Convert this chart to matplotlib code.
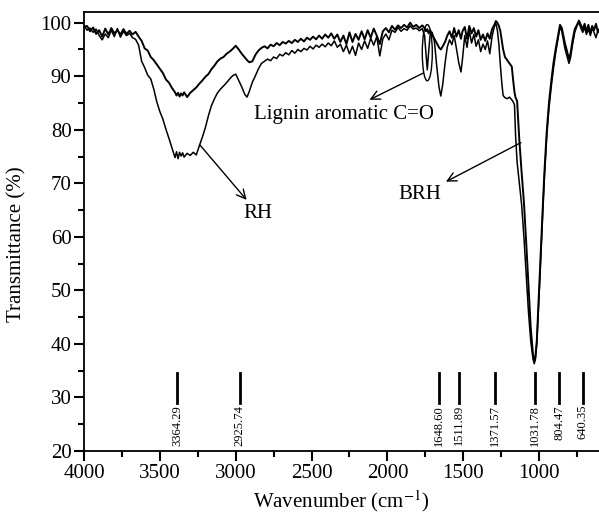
import matplotlib

matplotlib.use("Agg")
import matplotlib.pyplot as plt
from matplotlib.patches import Ellipse
from matplotlib.ticker import MultipleLocator

# spectra (wavenumber in cm-1, transmittance in %)
wavenumber = [
    4000, 3980, 3960, 3940, 3920, 3900, 3880, 3860, 3840, 3820,
    3800, 3780, 3760, 3740, 3720, 3700, 3680, 3660, 3640, 3620,
    3600, 3580, 3560, 3540, 3520, 3500, 3480, 3460, 3440, 3420,
    3400, 3390, 3380, 3370, 3360, 3350, 3340, 3320, 3300, 3280,
    3260, 3240, 3220, 3200, 3180, 3160, 3140, 3120, 3100, 3080,
    3060, 3040, 3020, 3000, 2980, 2960, 2940, 2925, 2910, 2890,
    2870, 2850, 2830, 2810, 2790, 2770, 2750, 2730, 2710, 2690,
    2670, 2650, 2630, 2610, 2590, 2570, 2550, 2530, 2510, 2490,
    2470, 2450, 2430, 2410, 2390, 2370, 2350, 2330, 2310, 2290,
    2270, 2250, 2230, 2210, 2190, 2170, 2150, 2130, 2110, 2090,
    2070, 2050, 2030, 2010, 1990, 1970, 1950, 1930, 1910, 1890,
    1870, 1850, 1830, 1810, 1790, 1770, 1755, 1745, 1737, 1728,
    1718, 1705, 1690, 1675, 1660, 1648, 1635, 1620, 1605, 1590,
    1575, 1560, 1545, 1530, 1515, 1505, 1490, 1475, 1460, 1445,
    1430, 1415, 1400, 1385, 1370, 1355, 1340, 1325, 1310, 1295,
    1285, 1275, 1265, 1255, 1245, 1237, 1225, 1210, 1195, 1180,
    1170, 1162, 1155, 1145, 1130, 1115, 1100, 1085, 1070, 1055,
    1040, 1032, 1025, 1015, 1005, 995, 985, 975, 965, 950,
    935, 920, 905, 890, 875, 862, 850, 840, 830, 815,
    803, 793, 780, 765, 750, 737, 725, 712, 700, 688,
    675, 662, 650, 638, 625, 612, 600,
]

rh = [
    99.5, 98.6, 99.0, 98.2, 98.8, 97.6, 96.8, 97.9, 97.2, 98.6,
    97.4, 98.9, 97.3, 98.4, 97.6, 98.0, 97.2, 96.9, 95.8, 92.8,
    91.6, 90.2, 89.5, 87.6, 85.2, 83.4, 82.0, 80.1, 78.4, 76.6,
    74.8, 75.9, 74.6, 75.8, 75.1, 75.7, 74.9, 75.6, 75.2, 75.8,
    75.3, 77.0, 78.6, 80.4, 82.6, 84.5, 85.8, 86.9, 87.6, 88.2,
    88.8, 89.5, 90.1, 90.4, 89.2, 88.0, 86.6, 86.1, 87.2, 88.9,
    90.1, 91.4, 92.4, 92.8, 93.2, 92.9, 93.6, 93.3, 94.1, 93.8,
    94.4, 94.0, 94.8, 94.3, 95.0, 94.6, 95.2, 94.9, 95.6, 95.1,
    95.8, 95.4, 96.0, 95.5, 96.2, 95.7, 96.6, 95.4, 96.0, 94.6,
    95.8, 94.2, 95.6, 93.9, 96.2, 95.0, 96.6, 95.2, 97.1, 95.8,
    97.4, 93.8, 97.0, 97.9, 96.8, 98.6, 98.2, 99.1, 98.4, 98.9,
    98.6, 99.4, 98.8, 99.0, 98.5, 98.9, 97.6, 94.0, 91.2, 94.5,
    97.8, 98.2, 96.5, 92.0, 88.0, 86.3, 88.5, 92.4, 95.5, 96.8,
    95.9, 97.6, 95.2, 92.6, 90.8, 93.2, 97.6, 95.4, 98.5, 96.2,
    97.8, 95.6, 96.8, 94.6, 96.0, 95.0, 96.6, 94.2, 97.4, 99.3,
    99.9, 98.6, 96.0, 92.0, 88.5, 86.4, 86.0, 85.8, 86.1, 85.6,
    85.2, 84.6, 79.0, 74.0, 70.0, 66.0, 60.0, 53.0, 46.0, 40.5,
    37.2, 36.3, 37.0, 40.0, 46.0, 52.0, 58.5, 65.0, 71.0, 78.5,
    84.0, 88.0, 91.5, 94.5, 97.0, 99.2, 98.4, 96.8, 95.2, 93.6,
    92.4, 93.4, 95.8, 98.2, 99.4, 100.1, 99.0, 98.2, 99.1, 97.8,
    98.8, 97.6, 99.0, 98.2, 97.2, 98.6, 98.0,
]

brh = [
    99.2, 99.4, 98.4, 99.1, 97.9, 98.6, 97.4, 98.9, 97.8, 99.0,
    98.0, 98.6, 97.8, 98.8, 97.9, 98.5, 97.8, 98.3, 97.4, 96.6,
    95.2, 94.8, 93.6, 93.0, 92.2, 91.4, 90.6, 89.4, 88.8, 87.8,
    87.0, 86.4, 86.9, 86.2, 86.8, 86.4, 87.0, 86.1, 86.9, 87.4,
    87.9, 88.6, 89.2, 89.9, 90.4, 91.3, 92.0, 92.8, 93.3, 93.6,
    94.2, 94.6, 95.1, 95.7, 95.0, 94.2, 93.5, 93.0, 92.6, 92.8,
    94.0, 94.8, 95.3, 95.6, 95.2, 95.9, 95.6, 96.2, 95.8, 96.4,
    96.1, 96.6, 96.2, 96.8, 96.4, 97.0, 96.5, 97.2, 96.8, 97.4,
    96.9, 97.6, 97.0, 97.8, 97.2, 98.0, 97.0, 97.8, 96.4, 97.6,
    96.0, 98.2, 96.4, 97.9, 96.8, 98.4, 96.9, 98.6, 97.2, 98.9,
    97.6, 96.0, 98.4, 99.0, 98.2, 99.4, 98.7, 99.5, 99.0, 99.6,
    99.1, 100.0, 99.2, 99.6, 99.0, 99.5, 99.0, 98.4, 98.8, 98.0,
    98.6, 97.8, 97.0, 96.2, 95.4, 95.0, 95.6, 96.4, 97.6, 98.4,
    97.2, 99.0, 97.4, 98.6, 97.0, 98.4, 99.2, 97.0, 99.4, 98.0,
    99.0, 97.4, 98.6, 96.8, 97.8, 96.6, 98.0, 97.0, 98.8, 99.6,
    100.3, 100.0, 99.4, 98.4, 96.5, 95.0, 93.6, 93.0, 92.4, 91.8,
    89.0, 87.0, 86.0, 85.4, 78.0, 72.0, 66.5, 59.0, 51.0, 43.0,
    38.0, 36.8, 37.4, 40.6, 47.0, 53.0, 59.5, 66.0, 72.0, 79.5,
    85.0, 89.0, 92.5, 95.2, 97.6, 99.6, 99.0, 97.6, 96.2, 94.6,
    93.2, 94.2, 96.6, 98.8, 99.6, 100.4, 99.6, 98.8, 99.8, 98.4,
    99.6, 98.0, 99.4, 98.6, 99.8, 98.2, 99.0,
]

# peak markers: where the bars sit and what they are labelled
peak_labels = ["3364.29", "2925.74", "1648.60", "1511.89",
               "1371.57", "1031.78", "804.47", "640.35"]
peak_marks = [3384, 2974, 1663, 1526, 1290, 1029, 868, 711]

assert len(wavenumber) == len(rh) == len(brh)

plt.rcParams["font.family"] = ["Liberation Serif", "DejaVu Serif"]
plt.rcParams["mathtext.fontset"] = "stix"

fig = plt.figure(figsize=(5.99, 5.2), dpi=100)
ax = fig.add_axes([84 / 599, 69 / 520, 515 / 599, 439 / 520])

ax.plot(wavenumber, rh, color="black", linewidth=1.1)
ax.plot(wavenumber, brh, color="black", linewidth=1.4)

for pos, lab in zip(peak_marks, peak_labels):
    ax.plot([pos, pos], [29.0, 34.5], color="black", linewidth=2)
    ax.text(pos, 28.6, lab, rotation=90, ha="center", va="top", fontsize=9)

arrow = dict(arrowstyle="->", color="black", lw=1, shrinkA=0, shrinkB=0,
             mutation_scale=16)
ax.annotate("", xy=(2928, 66.9), xytext=(3237, 77.2), arrowprops=arrow)
ax.annotate("", xy=(1614, 70.3), xytext=(1120, 77.6), arrowprops=arrow)
ax.annotate("", xy=(2118, 85.6), xytext=(1763, 90.6), arrowprops=arrow)
ax.add_patch(Ellipse((1737, 94.4), width=66, height=10.5, fill=False,
                     edgecolor="black", linewidth=1))

ax.text(2855, 64.3, "RH", ha="center", va="center", fontsize=15)
ax.text(1789, 67.9, "BRH", ha="center", va="center", fontsize=15)
ax.text(2286, 82.8, "Lignin aromatic C=O", ha="center", va="center",
        fontsize=15)

ax.set_xlim(4000, 605)
ax.set_ylim(20, 102)
ax.xaxis.set_major_locator(MultipleLocator(500))
ax.xaxis.set_minor_locator(MultipleLocator(250))
ax.yaxis.set_major_locator(MultipleLocator(10))
ax.yaxis.set_minor_locator(MultipleLocator(5))
ax.tick_params(which="both", direction="out", width=1.5, labelsize=15)
ax.tick_params(which="major", length=7, pad=2)
ax.tick_params(which="minor", length=4)
ax.spines["right"].set_visible(False)
for side in ("left", "bottom", "top"):
    ax.spines[side].set_linewidth(1.3)

ax.set_xlabel("Wavenumber (cm$^{-1}$)", fontsize=15, labelpad=4)
ax.set_ylabel("Transmittance (%)", fontsize=15)
ax.yaxis.set_label_coords(-0.112, 0.47)

fig.savefig("out.png", dpi=100)
